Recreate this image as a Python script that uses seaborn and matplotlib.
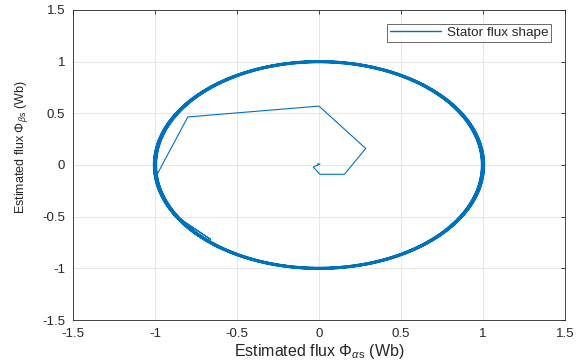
import numpy as np
import pandas as pd
import matplotlib
matplotlib.use("Agg")
import matplotlib.pyplot as plt
import seaborn as sns

# Start-up transient of the estimated stator flux (Wb)
transient_alpha = [-0.01, 0.006, -0.035, 0.006, 0.155, 0.285, 0.0, -0.80, -0.99,
                   -0.97, -0.92, -0.86, -0.66, -0.81]
transient_beta = [0.01, 0.01, -0.02, -0.09, -0.09, 0.16, 0.57, 0.465, -0.10,
                  -0.25, -0.40, -0.505, -0.72, -0.565]

# Steady-state circular flux locus: amplitude per revolution (Wb)
orbit_radius = [0.995, 1.004, 0.992, 1.008, 0.998, 1.01, 0.99, 1.002, 1.006, 0.996]
orbit_start_deg = 215.0

ticks = [-1.5, -1, -0.5, 0, 0.5, 1, 1.5]
tick_labels = ["-1.5", "-1", "-0.5", "0", "0.5", "1", "1.5"]

line_color = "#0072BD"

# Full trajectory: transient followed by the steady-state revolutions
alpha = list(transient_alpha)
beta = list(transient_beta)
for r in orbit_radius:
    th = np.deg2rad(orbit_start_deg + np.linspace(0, 360, 181))
    alpha.extend(r * np.cos(th))
    beta.extend(r * np.sin(th))
df = pd.DataFrame({"alpha": alpha, "beta": beta, "series": "Stator flux shape"})

sns.set_theme(style="white")
plt.rcParams["font.family"] = ["Liberation Sans", "DejaVu Sans"]
plt.rcParams["mathtext.fontset"] = "custom"
plt.rcParams["mathtext.rm"] = "Liberation Sans"
plt.rcParams["mathtext.it"] = "Liberation Sans:italic"

fig = plt.figure(figsize=(5.82, 3.62), dpi=100)
ax = fig.add_axes([0.1254, 0.116, 0.8454, 0.8564])

sns.lineplot(data=df, x="alpha", y="beta", hue="series", sort=False, estimator=None,
             palette=[line_color], linewidth=0.8, ax=ax)

ax.set_xlim(-1.5, 1.5)
ax.set_ylim(-1.5, 1.5)
ax.set_xticks(ticks)
ax.set_xticklabels(tick_labels)
ax.set_yticks(ticks)
ax.set_yticklabels(tick_labels)
ax.grid(True, color="#e2e2e2", linewidth=0.6)
ax.set_axisbelow(True)
for s in ax.spines.values():
    s.set_visible(True)
    s.set_color("#262626")
    s.set_linewidth(0.6)
ax.tick_params(direction="in", length=3, width=0.6, colors="#262626",
               labelsize=9.5, top=True, right=True)
ax.tick_params(axis="x", pad=6)
ax.tick_params(axis="y", pad=5.5)

ax.set_xlabel(r"Estimated flux $\Phi_{\alpha \mathrm{s}}$ (Wb)", fontsize=11.5,
              color="#262626", labelpad=1)
ax.set_ylabel(r"Estimated flux $\Phi_{\beta\mathrm{s}}$ (Wb)", fontsize=9,
              color="#262626")
ax.yaxis.set_label_coords(-0.088, 0.558)

leg = ax.legend(loc="upper right", fontsize=9.7, frameon=True, fancybox=False,
                borderpad=0.2, handlelength=3.8, handletextpad=0.45,
                borderaxespad=0, bbox_to_anchor=(0.9716, 0.955))
leg.get_frame().set_edgecolor("#262626")
leg.get_frame().set_linewidth(0.6)
leg_line = leg.get_lines()[0]
leg_line.set_color(line_color)
leg_line.set_linewidth(1.0)

fig.savefig("out.png", dpi=100)
